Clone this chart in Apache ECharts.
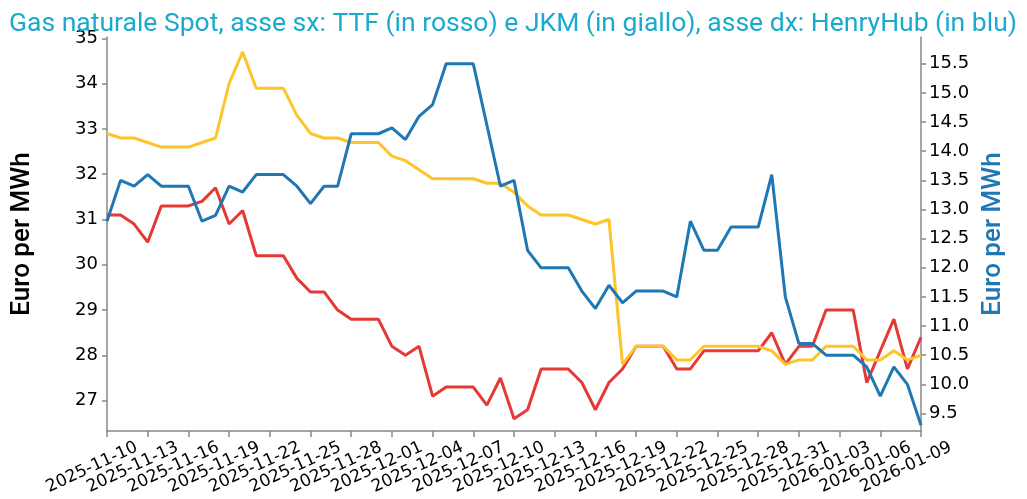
<!DOCTYPE html>
<html>
<head>
<meta charset="utf-8">
<script src="https://cdn.jsdelivr.net/npm/echarts@6/dist/echarts.min.js"></script>
<style>
html,body{margin:0;padding:0;background:#fff;}
#chart{width:1027px;height:499px;}
</style>
</head>
<body>
<div id="chart"></div>
<script>
const dates = [
"2025-11-10","2025-11-11","2025-11-12","2025-11-13","2025-11-14","2025-11-15","2025-11-16","2025-11-17","2025-11-18","2025-11-19",
"2025-11-20","2025-11-21","2025-11-22","2025-11-23","2025-11-24","2025-11-25","2025-11-26","2025-11-27","2025-11-28","2025-11-29",
"2025-11-30","2025-12-01","2025-12-02","2025-12-03","2025-12-04","2025-12-05","2025-12-06","2025-12-07","2025-12-08","2025-12-09",
"2025-12-10","2025-12-11","2025-12-12","2025-12-13","2025-12-14","2025-12-15","2025-12-16","2025-12-17","2025-12-18","2025-12-19",
"2025-12-20","2025-12-21","2025-12-22","2025-12-23","2025-12-24","2025-12-25","2025-12-26","2025-12-27","2025-12-28","2025-12-29",
"2025-12-30","2025-12-31","2026-01-01","2026-01-02","2026-01-03","2026-01-04","2026-01-05","2026-01-06","2026-01-07","2026-01-08",
"2026-01-09"];

const ttf = [
31.1,31.1,30.9,30.5,31.3,31.3,31.3,31.4,31.7,30.9,
31.2,30.2,30.2,30.2,29.7,29.4,29.4,29.0,28.8,28.8,
28.8,28.2,28.0,28.2,27.1,27.3,27.3,27.3,26.9,27.5,
26.6,26.8,27.7,27.7,27.7,27.4,26.8,27.4,27.7,28.2,
28.2,28.2,27.7,27.7,28.1,28.1,28.1,28.1,28.1,28.5,
27.8,28.2,28.2,29.0,29.0,29.0,27.4,28.1,28.8,27.7,
28.4];

const jkm = [
32.9,32.8,32.8,32.7,32.6,32.6,32.6,32.7,32.8,34.0,
34.7,33.9,33.9,33.9,33.3,32.9,32.8,32.8,32.7,32.7,
32.7,32.4,32.3,32.1,31.9,31.9,31.9,31.9,31.8,31.8,
31.6,31.3,31.1,31.1,31.1,31.0,30.9,31.0,27.8,28.2,
28.2,28.2,27.9,27.9,28.2,28.2,28.2,28.2,28.2,28.1,
27.8,27.9,27.9,28.2,28.2,28.2,27.9,27.9,28.1,27.9,
28.0];

const henryHub = [
12.8,13.5,13.4,13.6,13.4,13.4,13.4,12.8,12.9,13.4,
13.3,13.6,13.6,13.6,13.4,13.1,13.4,13.4,14.3,14.3,
14.3,14.4,14.2,14.6,14.8,15.5,15.5,15.5,14.45,13.4,
13.5,12.3,12.0,12.0,12.0,11.6,11.3,11.7,11.4,11.6,
11.6,11.6,11.5,12.8,12.3,12.3,12.7,12.7,12.7,13.6,
11.5,10.7,10.7,10.5,10.5,10.5,10.3,9.8,10.3,10.0,
9.3];

const titleText = "Gas naturale Spot, asse sx: TTF (in rosso) e JKM (in giallo), asse dx: HenryHub (in blu)";
const axisName = "Euro per MWh";

const chart = echarts.init(document.getElementById('chart'), null, {renderer: 'canvas'});
const axisLineStyle = {color: '#888', width: 1.5};
const tickFont = 'DejaVu Sans';

chart.setOption({
  animation: false,
  backgroundColor: '#fff',
  title: {
    text: titleText,
    left: 4,
    top: 6,
    textStyle: {fontFamily: 'Roboto', fontSize: 26.5, fontWeight: 'normal', color: '#1aabcc'}
  },
  grid: {left: 107, right: 106, top: 37, bottom: 68},
  xAxis: {
    type: 'category',
    data: dates,
    boundaryGap: false,
    axisLine: {lineStyle: axisLineStyle},
    axisTick: {show: true, interval: 2, length: 6, lineStyle: axisLineStyle},
    axisLabel: {
      interval: 2, rotate: 25, align: 'center', verticalAlign: 'top', margin: 20,
      padding: [0, 41, 0, 0],
      showMinLabel: true, showMaxLabel: true, hideOverlap: false,
      fontFamily: tickFont, fontSize: 17, color: '#000'
    },
    splitLine: {show: false}
  },
  yAxis: [
    {
      type: 'value', position: 'left',
      min: 26.33, max: 35.03, minInterval: 1, maxInterval: 1,
      name: axisName, nameLocation: 'middle', nameRotate: 90, nameGap: 72,
      nameTextStyle: {fontFamily: 'Roboto', fontSize: 26, fontWeight: 500, color: '#000'},
      axisLine: {show: true, lineStyle: axisLineStyle},
      axisTick: {show: true, length: 5, lineStyle: axisLineStyle},
      axisLabel: {
        margin: 9, fontFamily: tickFont, fontSize: 18, color: '#000',
        showMinLabel: false, showMaxLabel: false,
        formatter: v => Math.abs(v - Math.round(v)) < 1e-6 ? String(Math.round(v)) : ''
      },
      splitLine: {show: false}
    },
    {
      type: 'value', position: 'right',
      min: 9.2, max: 15.96, minInterval: 0.5, maxInterval: 0.5,
      name: axisName, nameLocation: 'middle', nameRotate: 90, nameGap: 59,
      nameTextStyle: {fontFamily: 'Roboto', fontSize: 26, fontWeight: 500, color: '#1f77b4'},
      axisLine: {show: true, lineStyle: axisLineStyle},
      axisTick: {show: true, length: 5, lineStyle: axisLineStyle},
      axisLabel: {
        margin: 8, fontFamily: tickFont, fontSize: 18, color: '#000',
        showMinLabel: false, showMaxLabel: false,
        formatter: v => Math.abs(v * 2 - Math.round(v * 2)) < 1e-6 ? v.toFixed(1) : ''
      },
      splitLine: {show: false}
    }
  ],
  series: [
    {name: 'TTF', type: 'line', yAxisIndex: 0, data: ttf, showSymbol: false, symbol: 'none',
     lineStyle: {color: '#e53935', width: 3}, itemStyle: {color: '#e53935'}},
    {name: 'JKM', type: 'line', yAxisIndex: 0, data: jkm, showSymbol: false, symbol: 'none',
     lineStyle: {color: '#fec52a', width: 3}, itemStyle: {color: '#fec52a'}},
    {name: 'HenryHub', type: 'line', yAxisIndex: 1, data: henryHub, showSymbol: false, symbol: 'none',
     lineStyle: {color: '#1f77b4', width: 3}, itemStyle: {color: '#1f77b4'}}
  ]
});
</script>
</body>
</html>
